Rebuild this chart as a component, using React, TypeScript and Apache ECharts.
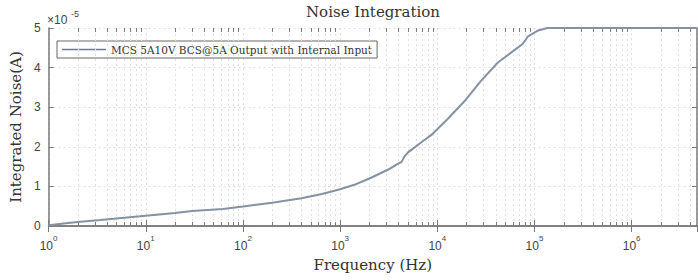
import React, { useEffect, useRef } from "react";
import * as echarts from "echarts";

// Frequency (Hz) and integrated noise (units of 1e-5 A)
const freqHz = [
  1, 1.5, 2, 3.4, 5, 10, 20, 30, 62, 100, 200, 400, 650, 1000, 1400, 2000, 3100,
  3800, 4300, 4600, 5000, 5800, 6800, 8700, 13000, 19000, 28000, 42000, 62000,
  75000, 80000, 85000, 107000, 135000, 200000, 1000000, 4700000,
];
const noise = [
  0.02, 0.07, 0.1, 0.15, 0.19, 0.26, 0.33, 0.38, 0.43, 0.49, 0.59, 0.7, 0.81,
  0.93, 1.04, 1.2, 1.42, 1.55, 1.62, 1.76, 1.86, 1.98, 2.11, 2.3, 2.72, 3.15,
  3.66, 4.13, 4.44, 4.59, 4.68, 4.78, 4.93, 5.0, 5.0, 5.0, 5.0,
];
const seriesName = "MCS 5A10V BCS@5A Output with Internal Input";
const titleText = "Noise Integration";
const xName = "Frequency (Hz)";
const yName = "Integrated Noise(A)";
const yTickValues = [0, 1, 2, 3, 4, 5];
const xMin = 1;
const xMax = 4700000;

const SERIF = "'DejaVu Serif', serif";
const SANS = "'Liberation Sans', Arial, sans-serif";
const AXIS = "#7a7a7a";
const GRID = "#e0e0e0";
const LINE = "#8592a2";

function minorPositions(): number[] {
  const out: number[] = [];
  for (let e = 0; e <= 6; e++) {
    for (let k = 2; k <= 9; k++) {
      const v = k * Math.pow(10, e);
      if (v < xMax) out.push(v);
    }
  }
  return out;
}

export default function App() {
  const ref = useRef<HTMLDivElement>(null);
  useEffect(() => {
    if (!ref.current) return;
    const chart = echarts.init(ref.current, undefined, { renderer: "svg" });
    const minors = minorPositions();
    const yMax = yTickValues[yTickValues.length - 1];
    const minorLen = 0.1;
    const tickSegs: any[] = [];
    minors.forEach((v) => {
      tickSegs.push([{ coord: [v, 0] }, { coord: [v, minorLen] }]);
      tickSegs.push([{ coord: [v, yMax] }, { coord: [v, yMax - minorLen] }]);
    });
    const option: any = {
      animation: false,
      backgroundColor: "#ffffff",
      grid: { left: 45, top: 28, right: 1, bottom: 54, show: false },
      graphic: [
        {
          type: "text",
          x: 373,
          y: 12,
          style: {
            text: titleText,
            fontFamily: SERIF,
            fontSize: 15,
            fill: "#333",
            align: "center",
            verticalAlign: "middle",
          },
        },
        {
          type: "text",
          x: 47,
          y: 20,
          style: {
            text: "×10",
            fontFamily: SANS,
            fontSize: 12,
            fill: "#444",
            align: "left",
            verticalAlign: "middle",
          },
        },
        {
          type: "text",
          x: 71,
          y: 14,
          style: {
            text: "-5",
            fontFamily: SANS,
            fontSize: 9,
            fill: "#444",
            align: "left",
            verticalAlign: "middle",
          },
        },
      ],
      legend: {
        left: 57,
        top: 41,
        padding: [3, 5, 3, 5],
        borderColor: "#666",
        borderWidth: 1,
        backgroundColor: "#fff",
        icon: "rect",
        itemWidth: 44,
        itemHeight: 1.5,
        itemGap: 4,
        textStyle: { fontFamily: SERIF, fontSize: 10.5, color: "#333" },
        data: [{ name: seriesName, itemStyle: { color: "#6f7c8e" } }],
      },
      xAxis: [
        {
          type: "log",
          logBase: 10,
          min: xMin,
          max: xMax,
          position: "bottom",
          name: xName,
          nameLocation: "middle",
          nameGap: 31,
          nameTextStyle: { fontFamily: SERIF, fontSize: 15, color: "#333" },
          axisLine: { show: true, lineStyle: { color: AXIS, width: 1.5 } },
          axisTick: { show: true, inside: true, length: 6, lineStyle: { color: AXIS } },
          axisLabel: {
            margin: 8,
            showMaxLabel: false,
            formatter: (v: number) => `{b|10}{s|${Math.round(Math.log10(v))}}`,
            rich: {
              b: { fontFamily: SANS, fontSize: 12, color: "#444", padding: [6, 0, 0, 0] },
              s: { fontFamily: SANS, fontSize: 8, color: "#444", verticalAlign: "top" },
            },
          },
          splitLine: { show: true, lineStyle: { type: [2, 3], color: GRID } },
        },
        {
          type: "log",
          logBase: 10,
          min: xMin,
          max: xMax,
          position: "top",
          axisLine: { show: true, lineStyle: { color: AXIS, width: 1.5 } },
          axisTick: { show: true, inside: true, length: 6, lineStyle: { color: AXIS } },
          axisLabel: { show: false },
          splitLine: { show: false },
        },
      ],
      yAxis: [
        {
          type: "value",
          min: 0,
          max: yMax,
          interval: 1,
          name: yName,
          nameLocation: "middle",
          nameGap: 21,
          nameTextStyle: { fontFamily: SERIF, fontSize: 15, color: "#333" },
          axisLine: { show: true, lineStyle: { color: AXIS, width: 1.5 } },
          axisTick: { show: true, inside: true, length: 5, lineStyle: { color: AXIS } },
          axisLabel: { fontFamily: SANS, fontSize: 12, color: "#444", margin: 8 },
          splitLine: { show: true, lineStyle: { type: [2, 3], color: GRID } },
        },
        {
          type: "value",
          min: 0,
          max: yMax,
          interval: 1,
          position: "right",
          axisLine: { show: true, lineStyle: { color: AXIS, width: 1.5 } },
          axisTick: { show: true, inside: true, length: 5, lineStyle: { color: AXIS } },
          axisLabel: { show: false },
          splitLine: { show: false },
        },
      ],
      series: [
        {
          name: "minor-grid",
          type: "line",
          data: [],
          z: 1,
          silent: true,
          markLine: {
            silent: true,
            symbol: "none",
            label: { show: false },
            lineStyle: { type: [2, 3], color: GRID, width: 1 },
            data: minors.map((v) => ({ xAxis: v })),
          },
        },
        {
          name: "minor-ticks",
          type: "line",
          data: [],
          z: 4,
          silent: true,
          markLine: {
            silent: true,
            symbol: "none",
            label: { show: false },
            lineStyle: { type: "solid", color: AXIS, width: 1 },
            data: tickSegs,
          },
        },
        {
          name: seriesName,
          type: "line",
          data: freqHz.map((f, i) => [f, noise[i]]),
          symbol: "none",
          z: 5,
          lineStyle: { color: LINE, width: 2 },
          itemStyle: { color: LINE },
        },
      ],
    };
    chart.setOption(option);
    return () => chart.dispose();
  }, []);
  return <div ref={ref} style={{ width: 698, height: 280, position: "absolute", left: 0, top: 0 }} />;
}
